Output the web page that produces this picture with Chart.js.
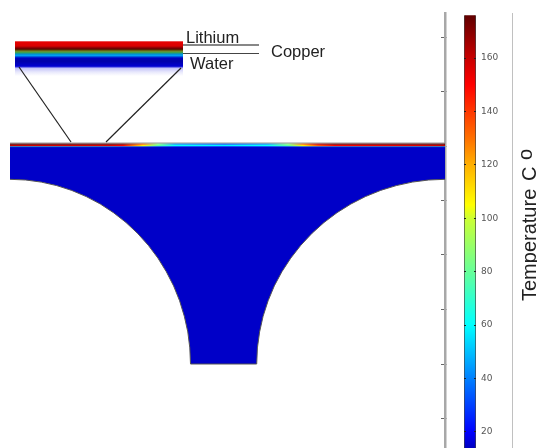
<!DOCTYPE html>
<html>
<head>
<meta charset="utf-8">
<style>
html,body{margin:0;padding:0;background:#fff;}
#geo-wrap{position:absolute;left:0;top:0;width:447px;height:448px;}
#bar-wrap{position:absolute;left:447px;top:0;width:90px;height:448px;}
</style>
<script src="https://cdn.jsdelivr.net/npm/chart.js@4"></script>
</head>
<body>
<div id="geo-wrap"><canvas id="geo"></canvas></div>
<div id="bar-wrap"><canvas id="bar"></canvas></div>
<script>
/* Cross section */
const geoTicks=[37,91,146,200,255,309,364,418];
const bodyX=[10,25.7,41.3,56.7,71.7,86.3,100.3,113.5,126,137.6,148.3,157.9,166.3,173.6,179.6,184.3,187.8,189.8,190.5,
  256.7,257.4,259.6,263.1,268.1,274.3,281.9,290.8,300.8,311.9,324,337,350.9,365.4,380.6,396.3,412.3,428.6,445];
const bodyY=[179.3,180,182.1,185.6,190.4,196.6,204,212.7,222.5,233.4,245.3,258.1,271.7,285.9,300.8,316.2,331.9,347.9,364,
  364,347.9,331.9,316.2,300.8,285.9,271.7,258.1,245.3,233.4,222.5,212.7,204,196.6,190.4,185.6,182.1,180,179.3];
const bodyTop=146.5;

/* heated strip along the top face: temperature per layer */
const stripX=[10,30,110,123,143,158,175,225,268,288,303,318,335,420,445];
const stripTop=[176,176,174,170,130,85,45,35,45,85,130,160,172,174,176];
const stripMid=[160,158,156,150,108,80,62,58,62,80,108,135,150,156,160];
const stripLow=[45,45,42,38,32,28,24,22,24,28,32,36,40,42,45];
const stripLevels=[144,145.4,146.6];
const stripWidths=[1.6,1.6,1];

/* zoomed inset */
const insetX=[15,183];
const insetEdges=[41,76];
const insetStopY=[41,42,46,48,49,50,51,52,53,54,55.5,56.5,58,61,66,67,68,72,76];
const insetStopC=['#f4a0a0','#e60000','#d80000','#800000','#600000','#504000','#808020','#50a040','#30a060','#0090d0','#00a0f0','#0060e0','#0000c0','#0000a8','#0000d0','#3030e0','#c0c0f8','#e8e8fc','#ffffff'];
const leaderLeftX=[19,71], leaderLeftY=[67,142];
const leaderRightX=[181,106], leaderRightY=[68,142];
const callTopX=[183,259], callTopY=[45,45];
const callLowX=[183,259], callLowY=[53.5,53.5];
const labelText=['Lithium','Copper','Water'];
const labelX=[186,271,190];
const labelY=[38,52,64];

/* colour bar */
const tempTicks=[20,40,60,80,100,120,140,160];
const tempRange=[14,176];
const tempStops=[14,20,40,60,80,100,105,120,130,150,160,176];
const tempColors=['#0000c0','#0000ff','#0080ff','#00ffff','#66ff99','#ccff33','#ffff00','#ffb000','#ff7000','#ff0000','#c80000','#600000'];
const titleParts=['Temperature','C','o'];
const titleStart=[301,181,160];
const titleBase=[536,536,532];

function rgb(h){return [1,3,5].map(i=>parseInt(h.substr(i,2),16));}
function tempColor(t){
  for(let i=1;i<tempStops.length;i++){
    if(t<=tempStops[i]){
      const f=(t-tempStops[i-1])/(tempStops[i]-tempStops[i-1]);
      const a=rgb(tempColors[i-1]),b=rgb(tempColors[i]);
      return 'rgb('+a.map((v,k)=>Math.round(v+(b[k]-v)*f)).join(',')+')';
    }
  }
  return tempColors[tempColors.length-1];
}
function pts(xs,ys){return xs.map((x,i)=>({x:x,y:ys[i]}));}
function flat(xs,y){return xs.map(x=>({x:x,y:y}));}

function stripColor(temps){
  return function(ctx){
    const s=ctx.chart.scales.x;
    if(!s||!ctx.chart.chartArea)return '#800000';
    const x0=s.getPixelForValue(stripX[0]),x1=s.getPixelForValue(stripX[stripX.length-1]);
    const g=ctx.chart.ctx.createLinearGradient(x0,0,x1,0);
    stripX.forEach((x,i)=>g.addColorStop((x-stripX[0])/(stripX[stripX.length-1]-stripX[0]),tempColor(temps[i])));
    return g;
  };
}
function insetFill(ctx){
  const s=ctx.chart.scales.y;
  if(!s||!ctx.chart.chartArea)return '#0000c8';
  const y0=s.getPixelForValue(insetEdges[0]),y1=s.getPixelForValue(insetEdges[1]);
  const g=ctx.chart.ctx.createLinearGradient(0,y0,0,y1);
  insetStopY.forEach((y,i)=>g.addColorStop((y-insetEdges[0])/(insetEdges[1]-insetEdges[0]),insetStopC[i]));
  return g;
}
function barFill(ctx){
  const s=ctx.chart.scales.y;
  if(!s||!ctx.chart.chartArea)return '#0000ff';
  const y0=s.getPixelForValue(tempRange[0]),y1=s.getPixelForValue(tempRange[1]);
  const g=ctx.chart.ctx.createLinearGradient(0,y0,0,y1);
  tempStops.forEach((t,i)=>g.addColorStop((t-tempRange[0])/(tempRange[1]-tempRange[0]),tempColors[i]));
  return g;
}

const line=(data,color,width)=>({data:data,borderColor:color,borderWidth:width,pointRadius:0,fill:false,tension:0});

const geoLabels={id:'geoLabels',afterDraw(chart){
  const c=chart.ctx;c.save();
  c.font='16.5px "Liberation Sans"';c.fillStyle='#222';c.textBaseline='middle';
  labelText.forEach((t,i)=>c.fillText(t,chart.scales.x.getPixelForValue(labelX[i]),chart.scales.y.getPixelForValue(labelY[i])));
  c.restore();
}};

/* the axis title has to read upwards, chart.js turns a right side title the other way */
const barLabel={id:'barLabel',afterDraw(chart){
  const c=chart.ctx,off=chart.canvas.parentNode.offsetLeft;
  c.save();c.font='20px "Liberation Sans"';c.fillStyle='#222';c.textBaseline='alphabetic';
  titleParts.forEach((t,i)=>{
    c.save();c.translate(titleBase[i]-off,titleStart[i]);c.rotate(-Math.PI/2);c.fillText(t,0,0);c.restore();
  });
  c.restore();
}};

new Chart(document.getElementById('geo'),{
  type:'line',
  data:{datasets:[
    line(pts(leaderLeftX,leaderLeftY),'#222',1.2),
    line(pts(leaderRightX,leaderRightY),'#222',1.2),
    line(pts(callTopX,callTopY),'#111',1.2),
    line(pts(callLowX,callLowY),'#444',1.2),
    line(flat(stripX,143),'#999',1),
    line(flat(stripX,stripLevels[0]),stripColor(stripTop),stripWidths[0]),
    line(flat(stripX,stripLevels[1]),stripColor(stripMid),stripWidths[1]),
    line(flat(stripX,stripLevels[2]),stripColor(stripLow),stripWidths[2]),
    {data:flat(insetX,insetEdges[0]),borderWidth:0,pointRadius:0,fill:false},
    {data:flat(insetX,insetEdges[1]),borderWidth:0,pointRadius:0,fill:'-1',backgroundColor:insetFill},
    {data:pts(bodyX,bodyY),borderColor:'#555',borderWidth:1,pointRadius:0,tension:0,
      fill:{value:bodyTop},backgroundColor:'#0000c8'}
  ]},
  options:{
    responsive:true,maintainAspectRatio:false,animation:false,
    layout:{padding:{top:13,right:2,left:0,bottom:0}},
    plugins:{legend:{display:false},tooltip:{enabled:false}},
    scales:{
      x:{type:'linear',min:0,max:445,display:false},
      y:{type:'linear',reverse:true,min:13,max:448,position:'right',
        afterFit(s){s.width=0;},
        afterBuildTicks(s){s.ticks=geoTicks.map(v=>({value:v}));},
        ticks:{display:false},
        grid:{drawOnChartArea:false,tickLength:-4,color:'#666'},
        border:{display:true,color:'#a8a8a8',width:2.5}}
    }
  },
  plugins:[geoLabels]
});

new Chart(document.getElementById('bar'),{
  type:'bar',
  data:{labels:['T'],datasets:[{data:[tempRange],backgroundColor:barFill,borderColor:'#444',borderWidth:{left:1,right:1,top:0,bottom:0},borderSkipped:false,barPercentage:1,categoryPercentage:1}]},
  options:{
    responsive:true,maintainAspectRatio:false,animation:false,
    layout:{padding:{top:13,left:17,right:0,bottom:0}},
    plugins:{legend:{display:false},tooltip:{enabled:false}},
    scales:{
      x:{display:false},
      y:{type:'linear',position:'right',min:14,max:176.85,
        afterFit(s){s.width=36;s.paddingTop=0;s.paddingBottom=0;},
        afterBuildTicks(s){s.ticks=tempTicks.map(v=>({value:v}));},
        ticks:{color:'#555',padding:5,font:{family:'"DejaVu Sans"',size:9}},
        grid:{z:1,drawTicks:false,color:'#222'},
        border:{display:false,dash:[2,8,2]}},
      yTitle:{type:'linear',position:'right',
        afterFit(s){s.width=25;s.paddingTop=0;s.paddingBottom=0;},
        ticks:{display:false},
        grid:{display:false,drawTicks:false},
        border:{display:true,color:'#c0c0c0',width:1}}
    }
  },
  plugins:[barLabel]
});
</script>
</body>
</html>
